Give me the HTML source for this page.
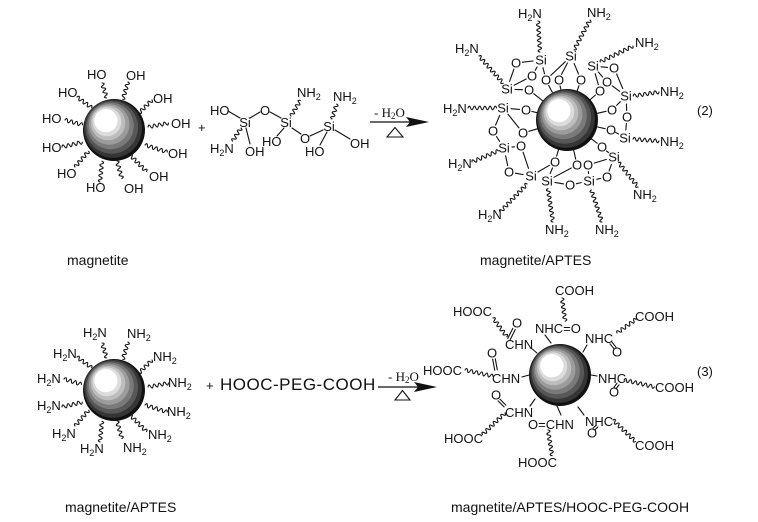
<!DOCTYPE html>
<html><head><meta charset="utf-8">
<style>
html,body{margin:0;padding:0;background:#fff;}
svg{display:block;}
text{font-family:"Liberation Sans",Arial,sans-serif;font-size:13px;fill:#111;}
text.s{font-family:"Liberation Serif","Times New Roman",serif;}
text.a{text-anchor:middle;}
text.cap{font-size:14px;}
</style></head><body>
<svg width="758" height="522" viewBox="0 0 758 522" xmlns="http://www.w3.org/2000/svg">
<rect width="758" height="522" fill="#fff"/>

<!-- spheres (stacked offset discs for banded shading) -->
<g transform="translate(114,130)">
<circle r="31" fill="#111"/>
<circle cx="-1" cy="-1.2" r="29" fill="#353535"/>
<circle cx="-2.2" cy="-2.6" r="26.3" fill="#575757"/>
<circle cx="-3.5" cy="-4.1" r="23.3" fill="#7a7a7a"/>
<circle cx="-4.8" cy="-5.6" r="20.3" fill="#9c9c9c"/>
<circle cx="-6" cy="-7" r="17.3" fill="#bdbdbd"/>
<circle cx="-7.1" cy="-8.2" r="14.4" fill="#dcdcdc"/>
<circle cx="-8.1" cy="-9.3" r="11.6" fill="#ffffff"/>
</g>
<g transform="translate(567,120)">
<circle r="31" fill="#111"/>
<circle cx="-1" cy="-1.2" r="29" fill="#353535"/>
<circle cx="-2.2" cy="-2.6" r="26.3" fill="#575757"/>
<circle cx="-3.5" cy="-4.1" r="23.3" fill="#7a7a7a"/>
<circle cx="-4.8" cy="-5.6" r="20.3" fill="#9c9c9c"/>
<circle cx="-6" cy="-7" r="17.3" fill="#bdbdbd"/>
<circle cx="-7.1" cy="-8.2" r="14.4" fill="#dcdcdc"/>
<circle cx="-8.1" cy="-9.3" r="11.6" fill="#ffffff"/>
</g>
<g transform="translate(114,390)">
<circle r="31" fill="#111"/>
<circle cx="-1" cy="-1.2" r="29" fill="#353535"/>
<circle cx="-2.2" cy="-2.6" r="26.3" fill="#575757"/>
<circle cx="-3.5" cy="-4.1" r="23.3" fill="#7a7a7a"/>
<circle cx="-4.8" cy="-5.6" r="20.3" fill="#9c9c9c"/>
<circle cx="-6" cy="-7" r="17.3" fill="#bdbdbd"/>
<circle cx="-7.1" cy="-8.2" r="14.4" fill="#dcdcdc"/>
<circle cx="-8.1" cy="-9.3" r="11.6" fill="#ffffff"/>
</g>
<g transform="translate(560,375)">
<circle r="31" fill="#111"/>
<circle cx="-1" cy="-1.2" r="29" fill="#353535"/>
<circle cx="-2.2" cy="-2.6" r="26.3" fill="#575757"/>
<circle cx="-3.5" cy="-4.1" r="23.3" fill="#7a7a7a"/>
<circle cx="-4.8" cy="-5.6" r="20.3" fill="#9c9c9c"/>
<circle cx="-6" cy="-7" r="17.3" fill="#bdbdbd"/>
<circle cx="-7.1" cy="-8.2" r="14.4" fill="#dcdcdc"/>
<circle cx="-8.1" cy="-9.3" r="11.6" fill="#ffffff"/>
</g>

<g fill="none" stroke="#111" stroke-width="1.1" stroke-linecap="round">
<!-- Panel 1 waves -->
<g>
<path transform="translate(102,83) rotate(72.6)" d="M0,0q1.3,-3.6 2.6,0t2.6,0t2.6,0t2.6,0t2.6,0t2.6,0"/>
<path transform="translate(128,82) rotate(106.4)" d="M0,0q1.3,-3.6 2.6,0t2.6,0t2.6,0t2.6,0t2.6,0t2.6,0t2.6,0"/>
<path transform="translate(77,97) rotate(36.3)" d="M0,0q1.3,-3.6 2.6,0t2.6,0t2.6,0t2.6,0t2.6,0t2.6,0t2.6,0"/>
<path transform="translate(152,100) rotate(135)" d="M0,0q1.3,-3.6 2.6,0t2.6,0t2.6,0t2.6,0t2.6,0t2.6,0t2.6,0"/>
<path transform="translate(65,120) rotate(15.5)" d="M0,0q1.3,-3.6 2.6,0t2.6,0t2.6,0t2.6,0t2.6,0t2.6,0t2.6,0"/>
<path transform="translate(148,127) rotate(-10.8)" d="M0,0q1.3,-3.6 2.6,0t2.6,0t2.6,0t2.6,0t2.6,0t2.6,0t2.6,0t2.6,0"/>
<path transform="translate(62,147) rotate(-13.4)" d="M0,0q1.3,-3.6 2.6,0t2.6,0t2.6,0t2.6,0t2.6,0t2.6,0t2.6,0t2.6,0"/>
<path transform="translate(145,145) rotate(17.6)" d="M0,0q1.3,-3.6 2.6,0t2.6,0t2.6,0t2.6,0t2.6,0t2.6,0t2.6,0t2.6,0t2.6,0"/>
<path transform="translate(75,167) rotate(-49.1)" d="M0,0q1.3,-3.6 2.6,0t2.6,0t2.6,0t2.6,0t2.6,0t2.6,0t2.6,0t2.6,0"/>
<path transform="translate(130,155) rotate(45)" d="M0,0q1.3,-3.6 2.6,0t2.6,0t2.6,0t2.6,0t2.6,0t2.6,0t2.6,0t2.6,0t2.6,0"/>
<path transform="translate(100,182) rotate(-84.6)" d="M0,0q1.3,-3.6 2.6,0t2.6,0t2.6,0t2.6,0t2.6,0t2.6,0t2.6,0t2.6,0"/>
<path transform="translate(117,161) rotate(74.5)" d="M0,0q1.3,-3.6 2.6,0t2.6,0t2.6,0t2.6,0t2.6,0t2.6,0t2.6,0"/>
</g>
<!-- Panel 4 waves -->
<g transform="translate(0,260)">
<path transform="translate(102,83) rotate(72.6)" d="M0,0q1.3,-3.6 2.6,0t2.6,0t2.6,0t2.6,0t2.6,0t2.6,0"/>
<path transform="translate(128,82) rotate(106.4)" d="M0,0q1.3,-3.6 2.6,0t2.6,0t2.6,0t2.6,0t2.6,0t2.6,0t2.6,0"/>
<path transform="translate(77,97) rotate(36.3)" d="M0,0q1.3,-3.6 2.6,0t2.6,0t2.6,0t2.6,0t2.6,0t2.6,0t2.6,0"/>
<path transform="translate(152,100) rotate(135)" d="M0,0q1.3,-3.6 2.6,0t2.6,0t2.6,0t2.6,0t2.6,0t2.6,0t2.6,0"/>
<path transform="translate(64,119) rotate(17)" d="M0,0q1.3,-3.6 2.6,0t2.6,0t2.6,0t2.6,0t2.6,0t2.6,0t2.6,0"/>
<path transform="translate(148,127) rotate(-10.8)" d="M0,0q1.3,-3.6 2.6,0t2.6,0t2.6,0t2.6,0t2.6,0t2.6,0t2.6,0t2.6,0"/>
<path transform="translate(62,147) rotate(-13.4)" d="M0,0q1.3,-3.6 2.6,0t2.6,0t2.6,0t2.6,0t2.6,0t2.6,0t2.6,0t2.6,0"/>
<path transform="translate(145,145) rotate(17.6)" d="M0,0q1.3,-3.6 2.6,0t2.6,0t2.6,0t2.6,0t2.6,0t2.6,0t2.6,0t2.6,0t2.6,0"/>
<path transform="translate(75,166) rotate(-49.1)" d="M0,0q1.3,-3.6 2.6,0t2.6,0t2.6,0t2.6,0t2.6,0t2.6,0t2.6,0t2.6,0"/>
<path transform="translate(130,155) rotate(45)" d="M0,0q1.3,-3.6 2.6,0t2.6,0t2.6,0t2.6,0t2.6,0t2.6,0t2.6,0t2.6,0t2.6,0"/>
<path transform="translate(100,182) rotate(-84.6)" d="M0,0q1.3,-3.6 2.6,0t2.6,0t2.6,0t2.6,0t2.6,0t2.6,0t2.6,0t2.6,0"/>
<path transform="translate(117,161) rotate(74.5)" d="M0,0q1.3,-3.6 2.6,0t2.6,0t2.6,0t2.6,0t2.6,0t2.6,0t2.6,0"/>
</g>

<!-- Panel 2 bonds -->
<line x1="228" y1="111" x2="240" y2="118"/>
<line x1="250" y1="118" x2="260" y2="112"/>
<line x1="270" y1="112" x2="281" y2="118"/>
<line x1="246" y1="128" x2="250" y2="144"/>
<line x1="284" y1="128" x2="277" y2="136"/>
<line x1="292" y1="128" x2="301" y2="134"/>
<line x1="310" y1="136" x2="323" y2="130"/>
<line x1="327" y1="132" x2="320" y2="145"/>
<line x1="335" y1="130" x2="350" y2="139"/>
<path transform="translate(241,128) rotate(122.7)" d="M0,0q1.3,-3.6 2.6,0t2.6,0t2.6,0t2.6,0t2.6,0t2.6,0"/>
<path transform="translate(291,116) rotate(-59)" d="M0,0q1.3,-3.6 2.6,0t2.6,0t2.6,0t2.6,0t2.6,0t2.6,0t2.6,0"/>
<path transform="translate(332,119) rotate(-72.6)" d="M0,0q1.3,-3.6 2.6,0t2.6,0t2.6,0t2.6,0t2.6,0t2.6,0"/>

<!-- Panel 3 waves -->
<path transform="translate(538,21) rotate(86.4)" d="M0,0q1.3,-3.6 2.6,0t2.6,0t2.6,0t2.6,0t2.6,0t2.6,0t2.6,0t2.6,0t2.6,0t2.6,0t2.6,0t2.6,0"/>
<path transform="translate(590,20) rotate(118.1)" d="M0,0q1.3,-3.6 2.6,0t2.6,0t2.6,0t2.6,0t2.6,0t2.6,0t2.6,0t2.6,0t2.6,0t2.6,0t2.6,0t2.6,0t2.6,0"/>
<path transform="translate(479,56) rotate(48.4)" d="M0,0q1.3,-3.6 2.6,0t2.6,0t2.6,0t2.6,0t2.6,0t2.6,0t2.6,0t2.6,0t2.6,0t2.6,0t2.6,0t2.6,0t2.6,0t2.6,0"/>
<path transform="translate(633,46) rotate(154.1)" d="M0,0q1.3,-3.6 2.6,0t2.6,0t2.6,0t2.6,0t2.6,0t2.6,0t2.6,0t2.6,0t2.6,0t2.6,0t2.6,0t2.6,0t2.6,0t2.6,0"/>
<path transform="translate(659,92) rotate(171.3)" d="M0,0q1.3,-3.6 2.6,0t2.6,0t2.6,0t2.6,0t2.6,0t2.6,0t2.6,0t2.6,0t2.6,0t2.6,0"/>
<path transform="translate(468,108) rotate(0)" d="M0,0q1.3,-3.6 2.6,0t2.6,0t2.6,0t2.6,0t2.6,0t2.6,0t2.6,0t2.6,0t2.6,0t2.6,0t2.6,0"/>
<path transform="translate(659,141) rotate(-175.8)" d="M0,0q1.3,-3.6 2.6,0t2.6,0t2.6,0t2.6,0t2.6,0t2.6,0t2.6,0t2.6,0t2.6,0t2.6,0"/>
<path transform="translate(472,162) rotate(-22.9)" d="M0,0q1.3,-3.6 2.6,0t2.6,0t2.6,0t2.6,0t2.6,0t2.6,0t2.6,0t2.6,0t2.6,0t2.6,0t2.6,0"/>
<path transform="translate(638,187) rotate(-128.4)" d="M0,0q1.3,-3.6 2.6,0t2.6,0t2.6,0t2.6,0t2.6,0t2.6,0t2.6,0t2.6,0t2.6,0t2.6,0t2.6,0t2.6,0"/>
<path transform="translate(500,212) rotate(-46)" d="M0,0q1.3,-3.6 2.6,0t2.6,0t2.6,0t2.6,0t2.6,0t2.6,0t2.6,0t2.6,0t2.6,0t2.6,0t2.6,0t2.6,0t2.6,0t2.6,0t2.6,0"/>
<path transform="translate(553,222) rotate(-98.6)" d="M0,0q1.3,-3.6 2.6,0t2.6,0t2.6,0t2.6,0t2.6,0t2.6,0t2.6,0t2.6,0t2.6,0t2.6,0t2.6,0t2.6,0t2.6,0"/>
<path transform="translate(602,222) rotate(-108.4)" d="M0,0q1.3,-3.6 2.6,0t2.6,0t2.6,0t2.6,0t2.6,0t2.6,0t2.6,0t2.6,0t2.6,0t2.6,0t2.6,0t2.6,0t2.6,0"/>

<!-- Panel 3 Si-O bonds -->
<line x1="533.1" y1="61" x2="522.4" y2="62.2"/>
<line x1="537.1" y1="67" x2="535.2" y2="70.3"/>
<line x1="543" y1="67.7" x2="544.5" y2="73.8"/>
<line x1="565.3" y1="61.7" x2="550.8" y2="75.4"/>
<line x1="567.5" y1="62.9" x2="561.5" y2="74.4"/>
<line x1="574.1" y1="63.4" x2="578.5" y2="74"/>
<line x1="601" y1="66.8" x2="607.5" y2="67.4"/>
<line x1="598.3" y1="72" x2="602.7" y2="77.1"/>
<line x1="595.2" y1="73.7" x2="598.3" y2="84.7"/>
<line x1="509.6" y1="81.4" x2="513.9" y2="69.1"/>
<line x1="514.1" y1="85.3" x2="526.2" y2="79"/>
<line x1="515" y1="89.4" x2="522.5" y2="89.7"/>
<line x1="622.8" y1="88.6" x2="616.6" y2="74"/>
<line x1="619.6" y1="91.3" x2="612.2" y2="85.8"/>
<line x1="626.4" y1="104" x2="626.7" y2="110.5"/>
<line x1="620.3" y1="101.7" x2="616.6" y2="105.4"/>
<line x1="511" y1="108.7" x2="519.5" y2="109.4"/>
<line x1="499.8" y1="115.3" x2="495.6" y2="125"/>
<line x1="508" y1="114.2" x2="518.9" y2="127.9"/>
<line x1="625.8" y1="130" x2="626.4" y2="123.5"/>
<line x1="618.5" y1="134" x2="615.5" y2="132.3"/>
<line x1="499.6" y1="141.3" x2="496.5" y2="136.5"/>
<line x1="512" y1="147.1" x2="514.5" y2="146.8"/>
<line x1="505.6" y1="155.8" x2="507.7" y2="165.6"/>
<line x1="608.5" y1="152.5" x2="606.5" y2="151"/>
<line x1="606.4" y1="159.4" x2="594.2" y2="163.1"/>
<line x1="611.4" y1="164.5" x2="609.1" y2="170.9"/>
<line x1="523.1" y1="174.6" x2="515.4" y2="173.2"/>
<line x1="528.5" y1="168.4" x2="523.1" y2="152.2"/>
<line x1="537.9" y1="172" x2="549.4" y2="165.3"/>
<line x1="550.1" y1="173.6" x2="552.5" y2="168"/>
<line x1="554.9" y1="182.4" x2="563.6" y2="183.9"/>
<line x1="554.1" y1="177.2" x2="571.3" y2="168"/>
<line x1="581.2" y1="182.6" x2="576.4" y2="183.7"/>
<line x1="588.6" y1="173.5" x2="588.3" y2="171.5"/>
<line x1="596.8" y1="179.3" x2="600.7" y2="178.4"/>
<!-- O to sphere -->
<line x1="548.7" y1="85.4" x2="552.3" y2="92.2"/>
<line x1="560" y1="85.8" x2="561" y2="89.9"/>
<line x1="579" y1="85.7" x2="577.2" y2="90.8"/>
<line x1="595.5" y1="95" x2="590.3" y2="99.5"/>
<line x1="533.7" y1="93.7" x2="542.7" y2="100.8"/>
<line x1="531.8" y1="111.4" x2="536.9" y2="112.7"/>
<line x1="528.8" y1="131.3" x2="537.3" y2="128.8"/>
<line x1="606.1" y1="111.3" x2="597.3" y2="113.3"/>
<line x1="605.1" y1="128.7" x2="597.3" y2="126.9"/>
<line x1="597.2" y1="143.3" x2="591.5" y2="138.9"/>
<line x1="556.6" y1="156.2" x2="558.5" y2="149.8"/>
<line x1="575.7" y1="159.1" x2="573.7" y2="150.3"/>

<!-- Panel 5 waves -->
<path transform="translate(562,298) rotate(82.2)" d="M0,0q1.3,-3.6 2.6,0t2.6,0t2.6,0t2.6,0t2.6,0t2.6,0t2.6,0t2.6,0t2.6,0"/>
<path transform="translate(493,318) rotate(53.6)" d="M0,0q1.3,-3.6 2.6,0t2.6,0t2.6,0t2.6,0t2.6,0t2.6,0t2.6,0t2.6,0t2.6,0"/>
<path transform="translate(617,333) rotate(-35.8)" d="M0,0q1.3,-3.6 2.6,0t2.6,0t2.6,0t2.6,0t2.6,0t2.6,0t2.6,0t2.6,0t2.6,0"/>
<path transform="translate(465,370) rotate(12.5)" d="M0,0q1.3,-3.6 2.6,0t2.6,0t2.6,0t2.6,0t2.6,0t2.6,0t2.6,0t2.6,0t2.6,0t2.6,0t2.6,0"/>
<path transform="translate(624,380) rotate(12.7)" d="M0,0q1.3,-3.6 2.6,0t2.6,0t2.6,0t2.6,0t2.6,0t2.6,0t2.6,0t2.6,0t2.6,0t2.6,0t2.6,0t2.6,0"/>
<path transform="translate(505,413) rotate(136.3)" d="M0,0q1.3,-3.6 2.6,0t2.6,0t2.6,0t2.6,0t2.6,0t2.6,0t2.6,0t2.6,0t2.6,0t2.6,0t2.6,0t2.6,0"/>
<path transform="translate(548,430) rotate(80.9)" d="M0,0q1.3,-3.6 2.6,0t2.6,0t2.6,0t2.6,0t2.6,0t2.6,0t2.6,0t2.6,0t2.6,0t2.6,0"/>
<path transform="translate(613,420) rotate(43.7)" d="M0,0q1.3,-3.6 2.6,0t2.6,0t2.6,0t2.6,0t2.6,0t2.6,0t2.6,0t2.6,0t2.6,0t2.6,0t2.6,0t2.6,0"/>
<!-- Panel 5 double bonds -->
<line x1="512.8" y1="328.4" x2="507.8" y2="338.4"/><line x1="515.2" y1="329.6" x2="510.2" y2="339.6"/>
<line x1="610" y1="343.8" x2="614" y2="348.8"/><line x1="612" y1="342.2" x2="616" y2="347.2"/>
<line x1="492.7" y1="359.2" x2="494.7" y2="370.2"/><line x1="495.3" y1="358.8" x2="497.3" y2="369.8"/>
<line x1="617" y1="383.2" x2="614" y2="387.2"/><line x1="619" y1="384.8" x2="616" y2="388.8"/>
<line x1="498.1" y1="400.9" x2="504.1" y2="406.9"/><line x1="499.9" y1="399.1" x2="505.9" y2="405.1"/>
<line x1="596.1" y1="425.1" x2="593.1" y2="428.1"/><line x1="597.9" y1="426.9" x2="594.9" y2="429.9"/>
<!-- Panel 5 N-sphere bonds -->
<line x1="545" y1="335" x2="551" y2="343"/>
<line x1="531" y1="348" x2="537" y2="353"/>
<line x1="587" y1="345" x2="583" y2="352"/>
<line x1="522" y1="377" x2="529" y2="375"/>
<line x1="591" y1="375" x2="597" y2="376"/>
<line x1="530" y1="406" x2="535" y2="399"/>
<line x1="557" y1="406" x2="561" y2="415"/>
<line x1="578" y1="407" x2="584" y2="415"/>
</g>

<!-- Panel 1: magnetite OH -->
<text x="87" y="79">HO</text>
<text x="126" y="80">OH</text>
<text x="58" y="97">HO</text>
<text x="153" y="103">OH</text>
<text x="42" y="123">HO</text>
<text x="171" y="128">OH</text>
<text x="42" y="152">HO</text>
<text x="168" y="158">OH</text>
<text x="57" y="178">HO</text>
<text x="149" y="181">OH</text>
<text x="86" y="192">HO</text>
<text x="124" y="193">OH</text>

<!-- Panel 2: APTES -->
<text x="198" y="132">+</text>
<text x="210" y="115">HO</text>
<text class="a" x="245" y="127">Si</text>
<text class="a" x="265" y="115">O</text>
<text class="a" x="286" y="127">Si</text>
<text x="297" y="97">NH<tspan font-size="9" dy="3">2</tspan></text>
<text x="333" y="101">NH<tspan font-size="9" dy="3">2</tspan></text>
<text x="210" y="153">H<tspan font-size="9" dy="3">2</tspan><tspan dy="-3">N</tspan></text>
<text x="245" y="156">OH</text>
<text x="262" y="146">HO</text>
<text class="a" x="305" y="143">O</text>
<text class="a" x="329" y="131">Si</text>
<text x="305" y="156">HO</text>
<text x="350" y="148">OH</text>

<!-- Arrow 1 -->
<line x1="370" y1="122" x2="412" y2="122" stroke="#111" stroke-width="1.2"/>
<polygon points="406,117 429,122 406,127 410,122" fill="#111"/>
<text class="s" x="374" y="117">- H<tspan font-size="9" dy="2">2</tspan><tspan dy="-2">O</tspan></text>
<polygon points="387,137 395,127.5 403,137" fill="none" stroke="#111" stroke-width="1.1"/>

<!-- Panel 3: magnetite/APTES -->
<text x="518" y="18">H<tspan font-size="9" dy="3">2</tspan><tspan dy="-3">N</tspan></text>
<text x="587" y="17">NH<tspan font-size="9" dy="3">2</tspan></text>
<text x="455" y="53">H<tspan font-size="9" dy="3">2</tspan><tspan dy="-3">N</tspan></text>
<text x="635" y="47">NH<tspan font-size="9" dy="3">2</tspan></text>
<text x="660" y="96">NH<tspan font-size="9" dy="3">2</tspan></text>
<text x="443" y="113">H<tspan font-size="9" dy="3">2</tspan><tspan dy="-3">N</tspan></text>
<text x="660" y="146">NH<tspan font-size="9" dy="3">2</tspan></text>
<text x="448" y="168">H<tspan font-size="9" dy="3">2</tspan><tspan dy="-3">N</tspan></text>
<text x="633" y="199">NH<tspan font-size="9" dy="3">2</tspan></text>
<text x="478" y="219">H<tspan font-size="9" dy="3">2</tspan><tspan dy="-3">N</tspan></text>
<text x="545" y="234">NH<tspan font-size="9" dy="3">2</tspan></text>
<text x="595" y="234">NH<tspan font-size="9" dy="3">2</tspan></text>
<text x="697" y="115">(2)</text>

<text class="a" x="541" y="64.5">Si</text>
<text class="a" x="571" y="60.5">Si</text>
<text class="a" x="593" y="70.5">Si</text>
<text class="a" x="507" y="93.5">Si</text>
<text class="a" x="626" y="100.5">Si</text>
<text class="a" x="503" y="112.5">Si</text>
<text class="a" x="625" y="142.5">Si</text>
<text class="a" x="504" y="152.5">Si</text>
<text class="a" x="614" y="161.5">Si</text>
<text class="a" x="531" y="180.5">Si</text>
<text class="a" x="547" y="185.5">Si</text>
<text class="a" x="589" y="185.5">Si</text>

<text class="a" x="516" y="67.5">O</text>
<text class="a" x="614" y="72.5">O</text>
<text class="a" x="532" y="80.5">O</text>
<text class="a" x="546" y="84.5">O</text>
<text class="a" x="559" y="84.5">O</text>
<text class="a" x="581" y="84.5">O</text>
<text class="a" x="607" y="86.5">O</text>
<text class="a" x="529" y="94.5">O</text>
<text class="a" x="600" y="95.5">O</text>
<text class="a" x="526" y="114.5">O</text>
<text class="a" x="612" y="114.5">O</text>
<text class="a" x="627" y="121.5">O</text>
<text class="a" x="493" y="135.5">O</text>
<text class="a" x="523" y="137.5">O</text>
<text class="a" x="611" y="134.5">O</text>
<text class="a" x="521" y="150.5">O</text>
<text class="a" x="602" y="151.5">O</text>
<text class="a" x="555" y="166.5">O</text>
<text class="a" x="577" y="169.5">O</text>
<text class="a" x="588" y="169.5">O</text>
<text class="a" x="509" y="176.5">O</text>
<text class="a" x="607" y="181.5">O</text>
<text class="a" x="570" y="189.5">O</text>

<!-- Panel 4: magnetite/APTES NH2 -->
<text x="83" y="337">H<tspan font-size="9" dy="3">2</tspan><tspan dy="-3">N</tspan></text>
<text x="127" y="338">NH<tspan font-size="9" dy="3">2</tspan></text>
<text x="53" y="358">H<tspan font-size="9" dy="3">2</tspan><tspan dy="-3">N</tspan></text>
<text x="153" y="361">NH<tspan font-size="9" dy="3">2</tspan></text>
<text x="37" y="383">H<tspan font-size="9" dy="3">2</tspan><tspan dy="-3">N</tspan></text>
<text x="168" y="387">NH<tspan font-size="9" dy="3">2</tspan></text>
<text x="37" y="410">H<tspan font-size="9" dy="3">2</tspan><tspan dy="-3">N</tspan></text>
<text x="167" y="416">NH<tspan font-size="9" dy="3">2</tspan></text>
<text x="52" y="438">H<tspan font-size="9" dy="3">2</tspan><tspan dy="-3">N</tspan></text>
<text x="148" y="439">NH<tspan font-size="9" dy="3">2</tspan></text>
<text x="80" y="453">H<tspan font-size="9" dy="3">2</tspan><tspan dy="-3">N</tspan></text>
<text x="123" y="452">NH<tspan font-size="9" dy="3">2</tspan></text>

<text x="206" y="390">+</text>
<text x="220" y="390" style="font-size:17px;letter-spacing:0.5px">HOOC-PEG-COOH</text>

<!-- Arrow 2 -->
<line x1="378" y1="387" x2="420" y2="387" stroke="#111" stroke-width="1.2"/>
<polygon points="414,382 437,387 414,392 418,387" fill="#111"/>
<text class="s" x="388" y="381">- H<tspan font-size="9" dy="2">2</tspan><tspan dy="-2">O</tspan></text>
<polygon points="395,400 402.5,390.5 410,400" fill="none" stroke="#111" stroke-width="1.1"/>

<!-- Panel 5 -->
<text x="555" y="295">COOH</text>
<text x="453" y="316">HOOC</text>
<text x="635" y="321">COOH</text>
<text class="a" x="517" y="327.5">O</text>
<text x="535" y="333">NHC=O</text>
<text x="585" y="343">NHC</text>
<text x="505" y="349">CHN</text>
<text class="a" x="617" y="356.5">O</text>
<text class="a" x="492" y="357.5">O</text>
<text x="423" y="375">HOOC</text>
<text x="492" y="383">CHN</text>
<text x="598" y="383">NHC</text>
<text x="697" y="376">(3)</text>
<text x="655" y="392">COOH</text>
<text class="a" x="614" y="396.5">O</text>
<text class="a" x="496" y="399.5">O</text>
<text x="505" y="417">CHN</text>
<text x="528" y="429">O=CHN</text>
<text x="585" y="426">NHC</text>
<text class="a" x="592" y="437.5">O</text>
<text x="444" y="443">HOOC</text>
<text x="635" y="450">COOH</text>
<text x="518" y="467">HOOC</text>

<!-- captions -->
<text class="cap" x="67" y="265">magnetite</text>
<text class="cap" x="480" y="265">magnetite/APTES</text>
<text class="cap" x="65" y="512">magnetite/APTES</text>
<text class="cap" x="451" y="512">magnetite/APTES/HOOC-PEG-COOH</text>
</svg>
</body></html>
